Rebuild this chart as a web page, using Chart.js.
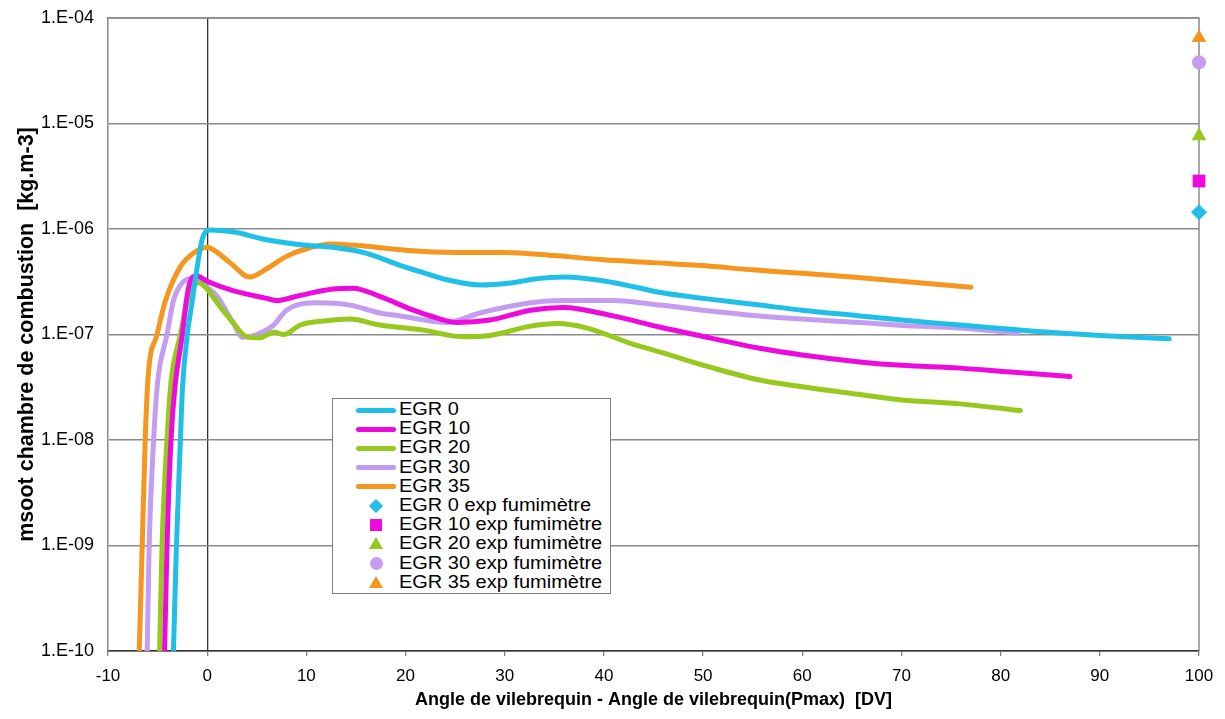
<!DOCTYPE html>
<html>
<head>
<meta charset="utf-8">
<script src="https://cdn.jsdelivr.net/npm/chart.js@4.4.1/dist/chart.umd.min.js"></script>
<style>
	body { margin:0; background:#fff; }
	#wrap { position:relative; width:1225px; height:719px; }
	#legend { position:absolute; left:332px; top:398px; width:277px; height:193px; border:1px solid #7f7f7f; background:#fff;
		font-family:"Liberation Sans", Arial, sans-serif; font-size:18px; color:#000; padding-top:1px; }
	.row { position:relative; height:19.2px; line-height:19.2px; }
	.row span.txt { position:absolute; left:66px; top:0; white-space:nowrap; transform:scaleX(1.11); transform-origin:left center; }
	.swatch { position:absolute; left:23px; top:7.5px; width:40px; height:5px; border-radius:2.5px; }
	.mk { position:absolute; }
</style>
</head>
<body>
<div id="wrap">
	<canvas id="chart" width="1225" height="719"></canvas>
	<div id="legend"></div>
</div>
<script>
var seriesNames = ['EGR 0','EGR 10','EGR 20','EGR 30','EGR 35'];
var seriesColors = ['#1fbfe8','#ee0adc','#96c81e','#c49cf0','#f5961e'];
var expMarkers = ['rectRot','rect','triangle','circle','triangle'];
var expRadius = [8, 9, 8.5, 7, 8.5];

//	x = angle relative to Pmax [DV], y = soot [kg.m-3]
var egr0Angle = [-3.5,-3.4,-3.1,-2.7,-2.5,-2.0,-1.5,-1.0,-0.5,0.3,2.6,6,9.4,12.7,16,19.5,22,24.2,27.5,30.8,33,36,41,45.7,50,55.7,60,65.8,70,75.9,83,90,97];
var egr0Soot  = [5e-11,1e-10,1e-9,1e-8,3e-8,1e-7,2.1e-7,4.4e-7,8e-7,9.8e-7,9.4e-7,7.9e-7,7.1e-7,6.7e-7,5.9e-7,4.5e-7,3.8e-7,3.3e-7,2.95e-7,3.1e-7,3.35e-7,3.5e-7,3.1e-7,2.5e-7,2.2e-7,1.9e-7,1.7e-7,1.5e-7,1.37e-7,1.23e-7,1.08e-7,9.8e-8,9.1e-8];

var egr10Angle = [-4.4,-4.3,-4.05,-3.65,-3.2,-2.5,-2.1,-1.7,-1.1,0,2.6,6,7,9.4,12.7,14.7,17.4,20.8,23,25.2,28.5,32.6,35.9,40.9,45.7,50.7,55.7,60,65.8,70,75.9,81,87];
var egr10Soot  = [5e-11,1e-10,1e-9,1e-8,3.5e-8,1e-7,2.1e-7,3.2e-7,3.6e-7,3.2e-7,2.6e-7,2.2e-7,2.1e-7,2.35e-7,2.7e-7,2.75e-7,2.3e-7,1.7e-7,1.45e-7,1.3e-7,1.37e-7,1.7e-7,1.8e-7,1.5e-7,1.17e-7,9.3e-8,7.4e-8,6.4e-8,5.5e-8,5.1e-8,4.8e-8,4.4e-8,4.0e-8];

var egr20Angle = [-4.9,-4.8,-4.55,-4.05,-3.65,-2.7,-2.0,-1.5,-0.9,0,1,2.6,4,5.3,6.7,7.7,9.4,12,14.4,17.4,21.8,25.8,28.5,32.6,35.3,38.3,42.6,45.7,50.7,55.7,60,65.8,70,75.9,82];
var egr20Soot  = [5e-11,1e-10,1e-9,1e-8,3.5e-8,1e-7,2.1e-7,2.8e-7,3.1e-7,2.7e-7,2e-7,1.3e-7,9.5e-8,9.3e-8,1.05e-7,1.0e-7,1.23e-7,1.35e-7,1.4e-7,1.23e-7,1.1e-7,9.5e-8,9.8e-8,1.2e-7,1.27e-7,1.15e-7,8.3e-8,6.8e-8,4.9e-8,3.7e-8,3.2e-8,2.7e-8,2.4e-8,2.2e-8,1.9e-8];

var egr30Angle = [-6.15,-6.05,-5.85,-5.4,-5.0,-4.05,-3.4,-2.5,-1.5,0,1,2.6,3.6,5,6.7,8,11,14.4,17.4,19.5,24.2,27.5,32.6,35.9,40.9,45.7,50,55.7,60,65.8,70,75.9,81.7];
var egr30Soot  = [5e-11,1e-10,1e-9,1e-8,3.5e-8,1e-7,2.1e-7,3.1e-7,3.4e-7,2.8e-7,2.3e-7,1.3e-7,9.4e-8,1.0e-7,1.23e-7,1.7e-7,2.0e-7,1.9e-7,1.6e-7,1.5e-7,1.3e-7,1.6e-7,2.0e-7,2.1e-7,2.1e-7,1.9e-7,1.7e-7,1.5e-7,1.4e-7,1.3e-7,1.22e-7,1.15e-7,1.03e-7];

var egr35Angle = [-6.95,-6.85,-6.55,-6.25,-5.95,-5.05,-4.2,-2.7,-1.5,0,1,2.3,4.3,6,8,10,12.5,15,20,25,30,35,40,45,50,55,60,65,70,77];
var egr35Soot  = [5e-11,1e-10,1e-9,1e-8,4e-8,1e-7,2.1e-7,4.4e-7,5.8e-7,6.7e-7,6.0e-7,4.8e-7,3.5e-7,4.2e-7,5.5e-7,6.5e-7,7.2e-7,7.0e-7,6.3e-7,6.0e-7,6.0e-7,5.6e-7,5.1e-7,4.8e-7,4.5e-7,4.1e-7,3.8e-7,3.5e-7,3.2e-7,2.8e-7];

//	smoke meter measurements, all at the end of the cycle
var expAngle = 100;
var expSoot = [1.44e-6, 2.85e-6, 7.6e-6, 3.8e-5, 6.5e-5];

var xTickValues = [-10,0,10,20,30,40,50,60,70,80,90,100];
var yTickValues = [1e-10,1e-9,1e-8,1e-7,1e-6,1e-5,1e-4];
var yTickLabels = ['1.E-10','1.E-09','1.E-08','1.E-07','1.E-06','1.E-05','1.E-04'];

var angles = [egr0Angle, egr10Angle, egr20Angle, egr30Angle, egr35Angle];
var soots = [egr0Soot, egr10Soot, egr20Soot, egr30Soot, egr35Soot];

var FONT = '"Liberation Sans", Arial, sans-serif';

var datasets = [];
seriesNames.forEach(function(name, i)
{
	datasets.push({
		label: name,
		data: angles[i].map(function(a, j){ return { x:a, y:soots[i][j] }; }),
		showLine: true,
		borderColor: seriesColors[i],
		borderWidth: 5,
		pointRadius: 0,
		cubicInterpolationMode: 'monotone',
		borderCapStyle: 'round',
		borderJoinStyle: 'round'
	});
});
seriesNames.forEach(function(name, i)
{
	datasets.push({
		label: name + ' exp fumimètre',
		data: [ { x:expAngle, y:expSoot[i] } ],
		showLine: false,
		pointStyle: expMarkers[i],
		pointRadius: expRadius[i],
		backgroundColor: seriesColors[i],
		borderColor: seriesColors[i],
		borderWidth: 0,
		clip: false
	});
});

var framePlugin = {
	id: 'frame',
	beforeDatasetsDraw: function(chart)
	{
		var ctx = chart.ctx, a = chart.chartArea;
		ctx.save();
		ctx.strokeStyle = '#8a8a8a';
		ctx.lineWidth = 1.5;
		ctx.beginPath();
		ctx.moveTo(a.left, a.top);
		ctx.lineTo(a.right, a.top);
		ctx.lineTo(a.right, a.bottom);
		ctx.stroke();
		ctx.restore();
	}
};

new Chart(document.getElementById('chart').getContext('2d'), {
	type: 'scatter',
	data: { datasets: datasets },
	plugins: [framePlugin],
	options: {
		responsive: false,
		animation: false,
		layout: { padding: { top:18, right:26, left:0, bottom:0 } },
		plugins: { legend: { display:false }, tooltip: { enabled:false } },
		scales: {
			x: {
				type: 'linear',
				min: -10, max: 100,
				afterBuildTicks: function(scale){ scale.ticks = xTickValues.map(function(v){ return { value:v }; }); },
				afterFit: function(scale){ scale.height = 68; scale.paddingLeft = 0; scale.paddingRight = 0; },
				ticks: { color:'#000', font:{ family:FONT, size:17 }, padding:10, maxRotation:0 },
				grid: {
					color: function(c){ return c.tick && c.tick.value === 0 ? '#333333' : 'rgba(0,0,0,0)'; },
					lineWidth: 1.3,
					tickColor: '#808080',
					tickLength: 5
				},
				border: { color:'#333333', width:1.5 },
				title: { display:true, text:'Angle de vilebrequin - Angle de vilebrequin(Pmax)  [DV]', color:'#000',
					font:{ family:FONT, size:18, weight:'bold' }, padding:{ top:0, bottom:8 } }
			},
			y: {
				type: 'logarithmic',
				min: 1e-10, max: 1e-4,
				afterBuildTicks: function(scale){ scale.ticks = yTickValues.map(function(v){ return { value:v }; }); },
				afterFit: function(scale){ scale.width = 108; scale.paddingTop = 0; scale.paddingBottom = 0; },
				ticks: {
					color:'#000', font:{ family:FONT, size:18 }, padding:14,
					callback: function(v){ return yTickLabels[yTickValues.indexOf(v)]; }
				},
				grid: { color:'#8a8a8a', lineWidth:1.5, drawTicks:false },
				border: { color:'#8a8a8a', width:1.5 },
				title: { display:true, text:'msoot chambre de combustion  [kg.m-3]', color:'#000',
					font:{ family:FONT, size:21.5, weight:'bold' }, padding:{ top:14, bottom:0 } }
			}
		}
	}
});

//	legend as html, two groups: simulated lines then measured points
var legend = document.getElementById('legend');
seriesNames.forEach(function(name, i)
{
	var row = document.createElement('div');
	row.className = 'row';
	row.innerHTML = '<div class="swatch" style="background:' + seriesColors[i] + '"></div><span class="txt">' + name + '</span>';
	legend.appendChild(row);
});
seriesNames.forEach(function(name, i)
{
	var c = seriesColors[i], mk;
	if( expMarkers[i] == 'rectRot' )
		mk = '<div class="mk" style="left:38px;top:5px;width:10px;height:10px;background:' + c + ';transform:rotate(45deg)"></div>';
	else if( expMarkers[i] == 'rect' )
		mk = '<div class="mk" style="left:37px;top:3.5px;width:12px;height:12px;background:' + c + '"></div>';
	else if( expMarkers[i] == 'circle' )
		mk = '<div class="mk" style="left:36.5px;top:3px;width:13px;height:13px;border-radius:50%;background:' + c + '"></div>';
	else
		mk = '<div class="mk" style="left:36px;top:3px;width:0;height:0;border-left:7px solid transparent;border-right:7px solid transparent;border-bottom:12px solid ' + c + '"></div>';
	var row = document.createElement('div');
	row.className = 'row';
	row.innerHTML = mk + '<span class="txt">' + name + ' exp fumimètre</span>';
	legend.appendChild(row);
});
</script>
</body>
</html>
